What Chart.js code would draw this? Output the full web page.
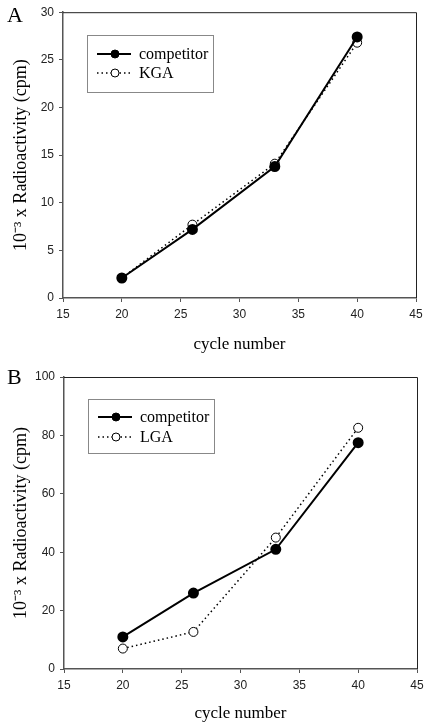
<!DOCTYPE html>
<html>
<head>
<meta charset="utf-8">
<script src="https://cdn.jsdelivr.net/npm/chart.js@4/dist/chart.umd.min.js"></script>
<style>
  body { margin: 0; background: #fff; width: 426px; height: 726px; position: relative; overflow: hidden; }
  canvas { position: absolute; left: 0; }
  #chartA { top: 0; }
  #chartB { top: 360px; }
  .panel-label { position: absolute; left: 7px; font-family: "Liberation Serif", serif; font-size: 22px; color: #000; }
</style>
</head>
<body>
<canvas id="chartA" width="426" height="360"></canvas>
<canvas id="chartB" width="426" height="366"></canvas>
<div class="panel-label" style="top:2px">A</div>
<div class="panel-label" style="top:364px">B</div>
<script>
// values
const cycles = [20, 26, 33, 40];
const competitorA = [2.1, 7.2, 13.8, 27.4];
const kgaA = [2.1, 7.7, 14.1, 26.8];
const competitorB = [11, 26, 41, 77.5];
const lgaB = [7, 12.7, 45, 82.6];
const xTicks = [15, 20, 25, 30, 35, 40, 45];
const yTicksA = [0, 5, 10, 15, 20, 25, 30];
const yTicksB = [0, 20, 40, 60, 80, 100];

const yTitle = "10\u207B\u00B3 x Radioactivity (cpm)";
const xTitle = "cycle number";

// draws the top and right border of the plot box
const framePlugin = {
    id: "frame",
    beforeDatasetsDraw(chart) {
        const {ctx, chartArea} = chart;
        ctx.save();
        ctx.strokeStyle = "#222";
        ctx.lineWidth = 1;
        ctx.beginPath();
        ctx.moveTo(chartArea.left, chartArea.top + 0.5);
        ctx.lineTo(chartArea.right + 0.5, chartArea.top + 0.5);
        ctx.lineTo(chartArea.right + 0.5, chartArea.bottom);
        ctx.stroke();
        ctx.restore();
    }
};

// boxed legend inside the plot, like the original
const boxLegend = {
    id: "boxLegend",
    afterDraw(chart, args, opts) {
        const {ctx} = chart;
        const b = opts.box;
        ctx.save();
        ctx.strokeStyle = "#888";
        ctx.lineWidth = 1;
        ctx.strokeRect(b.x + 0.5, b.y + 0.5, b.w, b.h);
        chart.data.datasets.forEach((ds, i) => {
            const y = opts.rows[i];
            ctx.strokeStyle = ds.borderColor;
            ctx.lineWidth = ds.borderWidth;
            ctx.setLineDash(ds.borderDash || []);
            ctx.beginPath();
            ctx.moveTo(b.x + 10, y);
            ctx.lineTo(b.x + 44, y);
            ctx.stroke();
            ctx.setLineDash([]);
            ctx.beginPath();
            ctx.arc(b.x + 28, y, 4, 0, Math.PI * 2);
            ctx.fillStyle = ds.pointBackgroundColor;
            ctx.fill();
            ctx.lineWidth = 1;
            ctx.strokeStyle = "#000";
            ctx.stroke();
            ctx.fillStyle = "#000";
            ctx.font = "16px 'Liberation Serif'";
            ctx.textBaseline = "middle";
            ctx.fillText(ds.label, b.x + 52, y + 1);
        });
        ctx.restore();
    }
};

function points(ys) {
    return cycles.map((c, i) => ({x: c, y: ys[i]}));
}

function makePanel(id, lineData, dotData, dotLabel, yTicks, yMax, layout) {
    new Chart(document.getElementById(id), {
        type: "line",
        data: {
            datasets: [{
                label: "competitor",
                data: points(lineData),
                borderColor: "#000",
                borderWidth: 2,
                pointRadius: 4.5,
                pointBackgroundColor: "#000",
                pointBorderColor: "#000",
                tension: 0
            }, {
                label: dotLabel,
                data: points(dotData),
                borderColor: "#000",
                borderWidth: 1.5,
                borderDash: [1.5, 3],
                pointRadius: 4.5,
                pointBackgroundColor: "#fff",
                pointBorderColor: "#000",
                pointBorderWidth: 1,
                tension: 0
            }]
        },
        options: {
            responsive: false,
            animation: false,
            layout: { padding: { top: layout.top, right: layout.right, left: 0, bottom: 0 } },
            plugins: {
                legend: { display: false },
                tooltip: { enabled: false },
                boxLegend: layout.legend
            },
            scales: {
                x: {
                    type: "linear",
                    min: 15,
                    max: 45,
                    afterBuildTicks: scale => { scale.ticks = xTicks.map(v => ({value: v})); },
                    afterFit: scale => {
                        scale.height = layout.xHeight;
                        scale.paddingLeft = 0;
                        scale.paddingRight = 0;
                    },
                    border: { color: "#555", width: 1.5 },
                    grid: { drawOnChartArea: false, tickLength: 4, color: "#555" },
                    ticks: { color: "#222", padding: 5, maxRotation: 0, font: { family: "'Liberation Sans'", size: 12 } },
                    title: { display: true, text: xTitle, color: "#000", padding: { top: 0, bottom: layout.xTitlePad }, font: { family: "'Liberation Serif'", size: 17 } }
                },
                y: {
                    min: 0,
                    max: yMax,
                    afterBuildTicks: scale => { scale.ticks = yTicks.map(v => ({value: v})); },
                    afterFit: scale => { scale.width = layout.yWidth; },
                    border: { color: "#555", width: 1.5 },
                    grid: { drawOnChartArea: false, tickLength: 4, color: "#555" },
                    ticks: { color: "#222", padding: 5, font: { family: "'Liberation Sans'", size: 12 } },
                    title: { display: true, text: yTitle, color: "#000", padding: { top: 10, bottom: 0 }, font: { family: "'Liberation Serif'", size: 18 } }
                }
            }
        },
        plugins: [framePlugin, boxLegend]
    });
}

makePanel("chartA", competitorA, kgaA, "KGA", yTicksA, 30, {
    top: 6, right: 10, xHeight: 62, yWidth: 63, xTitlePad: 5,
    legend: { box: {x: 87, y: 35, w: 126, h: 57}, rows: [54, 73] }
});
makePanel("chartB", competitorB, lgaB, "LGA", yTicksB, 100, {
    top: 17, right: 9, xHeight: 57, yWidth: 64, xTitlePad: 2,
    legend: { box: {x: 88, y: 39, w: 126, h: 54}, rows: [57, 77] }
});
</script>
</body>
</html>
